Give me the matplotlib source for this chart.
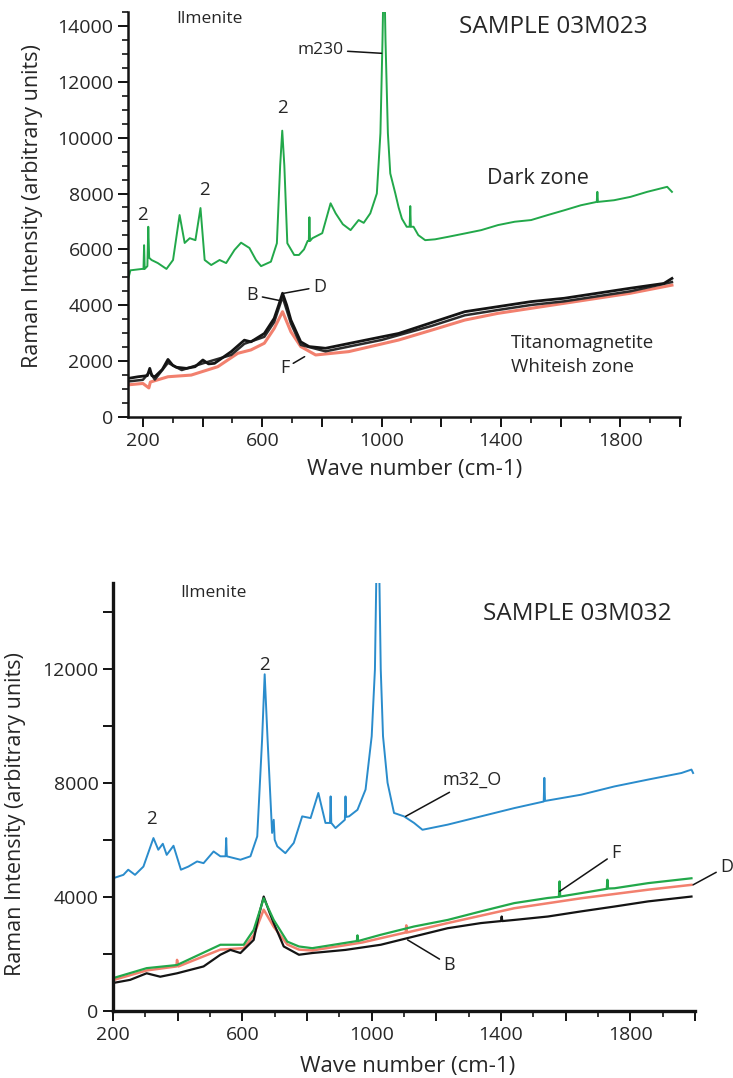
import matplotlib
matplotlib.use("Agg")
import matplotlib.pyplot as plt
from matplotlib.ticker import MultipleLocator, FuncFormatter

plt.rcParams["font.family"] = ["Open Sans", "DejaVu Sans"]

# ---------------------------------------------------------------------------
# Data
# ---------------------------------------------------------------------------

# sample 03M023 -- dark zone (ilmenite)
wn_dark = [150, 158, 197, 202, 204, 206, 215, 218, 221, 229, 250, 279, 301, 323, 340, 357, 376, 393,
           407, 429, 457, 479, 507, 529, 557, 579, 596, 629, 649, 660, 667, 674, 684, 707, 723, 740,
           752, 756, 758, 760, 768, 801, 829, 846, 870, 896, 923, 940, 962, 984, 996, 1003, 1008,
           1013, 1021, 1029, 1046, 1057, 1068, 1084, 1094, 1096, 1098, 1107, 1123, 1146, 1179, 1223,
           1279, 1334, 1390, 1446, 1501, 1557, 1612, 1668, 1721, 1723, 1725, 1779, 1834, 1890, 1957,
           1973]
int_dark = [4900, 5250, 5300, 5300, 6150, 5300, 5400, 6810, 5700, 5620, 5510, 5300, 5620, 7230, 6230,
            6400, 6330, 7480, 5620, 5440, 5620, 5510, 5980, 6240, 6050, 5620, 5400, 5560, 6220, 9000,
            10250, 9000, 6220, 5800, 5800, 6000, 6300, 6300, 7150, 6300, 6400, 6580, 7650, 7290, 6900,
            6690, 7050, 6950, 7290, 8000, 10160, 13500, 16500, 13500, 10160, 8720, 8000, 7500, 7100,
            6810, 6810, 7550, 6810, 6810, 6510, 6330, 6360, 6450, 6570, 6690, 6870, 6990, 7050, 7230,
            7400, 7580, 7700, 8060, 7700, 7760, 7880, 8060, 8240, 8060]

# sample 03M023 -- whiteish zone (titanomagnetite) B, D, F
wn_w_b = [150, 184, 215, 223, 230, 240, 265, 284, 300, 312, 346, 375, 401, 420, 440, 496, 540, 562,
          607, 640, 655, 668, 682, 696, 729, 757, 812, 890, 1001, 1057, 1168, 1279, 1390, 1501, 1612,
          1723, 1834, 1946, 1973]
int_w_b = [1380, 1440, 1480, 1740, 1480, 1440, 1700, 2060, 1850, 1780, 1740, 1800, 2040, 1900, 1920,
           2340, 2750, 2690, 2990, 3530, 4000, 4430, 4000, 3470, 2690, 2520, 2460, 2630, 2870, 2990,
           3380, 3770, 3950, 4130, 4250, 4430, 4610, 4780, 4960]
wn_w_d = [150, 200, 223, 240, 284, 330, 401, 496, 540, 607, 640, 668, 696, 729, 812, 1001, 1168, 1279,
          1390, 1501, 1612, 1723, 1834, 1973]
int_w_d = [1270, 1330, 1620, 1340, 1940, 1680, 1920, 2220, 2620, 2870, 3400, 4300, 3350, 2580, 2350,
           2760, 3260, 3640, 3830, 4010, 4140, 4320, 4500, 4830]
wn_w_f = [150, 200, 220, 225, 284, 362, 451, 518, 562, 607, 640, 668, 696, 729, 779, 890, 1057, 1168,
          1279, 1390, 1501, 1612, 1723, 1834, 1973]
int_w_f = [1150, 1200, 1040, 1250, 1440, 1500, 1800, 2280, 2400, 2640, 3170, 3770, 3050, 2520, 2220,
           2340, 2755, 3110, 3470, 3710, 3890, 4070, 4250, 4430, 4720]

# sample 03M032 -- m32_O (ilmenite)
wn_m32 = [200, 232, 247, 268, 294, 325, 340, 354, 366, 387, 410, 433, 460, 480, 511, 532, 548, 550,
          552, 594, 625, 646, 661, 669, 678, 692, 697, 700, 708, 733, 759, 785, 811, 835, 857, 871,
          873, 875, 888, 917, 919, 921, 930, 956, 981, 1000, 1010, 1016, 1022, 1028, 1035, 1049,
          1069, 1100, 1131, 1157, 1235, 1338, 1441, 1532, 1534, 1536, 1648, 1751, 1855, 1958, 1989,
          1994]
int_m32 = [4650, 4770, 4950, 4770, 5060, 6060, 5650, 5860, 5470, 5790, 4950, 5060, 5240, 5180, 5590,
           5420, 5420, 6060, 5420, 5300, 5420, 6120, 9510, 11800, 9510, 6240, 6700, 6000, 5770, 5530,
           5890, 6820, 6760, 7640, 6590, 6590, 7520, 6590, 6410, 6700, 7520, 6800, 6820, 7050, 7760,
           9630, 11970, 16500, 16500, 11970, 9630, 8000, 6940, 6820, 6590, 6350, 6530, 6820, 7110,
           7340, 8170, 7360, 7580, 7870, 8110, 8340, 8460, 8340]

# sample 03M032 -- B, D, F
wn_s_b = [200, 253, 304, 346, 398, 480, 532, 563, 594, 635, 650, 666, 684, 697, 728, 775, 816, 919,
          1028, 1131, 1235, 1338, 1400, 1402, 1404, 1441, 1545, 1648, 1751, 1855, 1989]
int_s_b = [980, 1090, 1320, 1200, 1320, 1560, 1970, 2140, 2030, 2490, 3300, 4010, 3450, 3080, 2260,
           1970, 2030, 2140, 2320, 2610, 2900, 3080, 3150, 3310, 3150, 3190, 3310, 3490, 3660, 3840,
           4010]
wn_s_d = [200, 304, 396, 398, 402, 532, 604, 635, 666, 697, 739, 775, 816, 971, 1028, 1105, 1107,
          1109, 1235, 1441, 1648, 1855, 1989]
int_s_d = [1080, 1420, 1560, 1790, 1560, 2150, 2200, 2650, 3550, 2950, 2330, 2150, 2120, 2400, 2550,
           2750, 3000, 2750, 3080, 3600, 3950, 4250, 4420]
wn_s_f = [200, 304, 398, 532, 563, 604, 635, 666, 697, 739, 775, 816, 954, 956, 958, 1028, 1131, 1235,
          1338, 1441, 1545, 1579, 1581, 1583, 1648, 1727, 1729, 1731, 1751, 1855, 1989]
int_s_f = [1150, 1500, 1610, 2320, 2320, 2320, 2840, 3950, 3190, 2430, 2260, 2200, 2450, 2650, 2450,
           2670, 2960, 3190, 3490, 3780, 3960, 4000, 4540, 4010, 4130, 4280, 4600, 4290, 4300, 4480,
           4650]

GREEN = "#22a84a"
BLUE = "#2a8ccc"
SALMON = "#f2806e"
BLACK = "#141414"
TXT = "#262626"


def style_axes(a, xlim, ylim, ymajor, yminor, ylabel_every, spine_w):
    a.set_xlim(*xlim)
    a.set_ylim(*ylim)
    for s in ("top", "right"):
        a.spines[s].set_visible(False)
    for s in ("left", "bottom"):
        a.spines[s].set_linewidth(spine_w)
        a.spines[s].set_color(BLACK)
    a.xaxis.set_major_locator(MultipleLocator(200))
    a.xaxis.set_minor_locator(MultipleLocator(100))
    a.xaxis.set_major_formatter(FuncFormatter(lambda v, p: f"{v:.0f}" if (v - 200) % 400 == 0 else ""))
    a.yaxis.set_major_locator(MultipleLocator(ymajor))
    if yminor:
        a.yaxis.set_minor_locator(MultipleLocator(yminor))
    a.yaxis.set_major_formatter(FuncFormatter(lambda v, p: f"{v:.0f}" if v % ylabel_every == 0 else ""))
    a.tick_params(which="major", direction="out", length=7, width=1.3, labelsize=14, labelcolor=TXT)
    a.tick_params(which="minor", direction="out", length=4, width=1.1)
    a.set_xlabel("Wave number (cm-1)", fontsize=16, color=TXT)
    a.set_ylabel("Raman Intensity (arbitrary units)", fontsize=15.5, color=TXT)


def leader(a, label, xy, xytext, fs=13, ha="center", va="center"):
    a.annotate(label, xy=xy, xytext=xytext, fontsize=fs, color=TXT, ha=ha, va=va,
               arrowprops=dict(arrowstyle="-", lw=1.1, color=BLACK, shrinkA=1, shrinkB=0))


fig = plt.figure(figsize=(7.33, 10.78), dpi=100)

# ---------------------------------------------------------------------------
# Top panel: SAMPLE 03M023
# ---------------------------------------------------------------------------
ax1 = fig.add_axes([0.1746, 0.6132, 0.7531, 0.3757])
ax1.plot(wn_dark, int_dark, color=GREEN, lw=1.4)
ax1.plot(wn_w_f, int_w_f, color=SALMON, lw=2.2)
ax1.plot(wn_w_d, int_w_d, color="#2b2b2b", lw=1.8)
ax1.plot(wn_w_b, int_w_b, color=BLACK, lw=2.0)
style_axes(ax1, (150, 2000), (0, 14500), 2000, 500, 2000, 1.8)
ax1.yaxis.set_label_coords(-0.154, 0.52)
ax1.xaxis.set_label_coords(0.52, -0.105)

ax1.text(423, 14250, "Ilmenite", fontsize=12.5, color=TXT, ha="center", va="center")
ax1.text(1577, 13950, "SAMPLE 03M023", fontsize=17.5, color=TXT, ha="center", va="center")
ax1.text(1523, 8550, "Dark zone", fontsize=15.5, color=TXT, ha="center", va="center")
ax1.text(1434, 2640, "Titanomagnetite", fontsize=13.5, color=TXT, ha="left", va="center")
ax1.text(1434, 1800, "Whiteish zone", fontsize=13.5, color=TXT, ha="left", va="center")
for px, py in [(200, 7230), (407, 8120), (667, 11050)]:
    ax1.text(px, py, "2", fontsize=13.5, color=TXT, ha="center", va="center")
leader(ax1, "m230", (1000, 13020), (872, 13150), fs=12.5, ha="right")
leader(ax1, "B", (662, 4160), (567, 4370))
leader(ax1, "D", (673, 4430), (792, 4660))
leader(ax1, "F", (742, 2160), (675, 1740))

# ---------------------------------------------------------------------------
# Bottom panel: SAMPLE 03M032
# ---------------------------------------------------------------------------
ax2 = fig.add_axes([0.1542, 0.0622, 0.794, 0.397])
ax2.plot(wn_m32, int_m32, color=BLUE, lw=1.4)
ax2.plot(wn_s_d, int_s_d, color=SALMON, lw=1.8)
ax2.plot(wn_s_b, int_s_b, color=BLACK, lw=1.6)
ax2.plot(wn_s_f, int_s_f, color=GREEN, lw=1.6)
style_axes(ax2, (200, 2000), (0, 15000), 2000, None, 4000, 2.4)
ax2.yaxis.set_label_coords(-0.1495, 0.46)
ax2.xaxis.set_label_coords(0.507, -0.105)

ax2.text(510, 14650, "Ilmenite", fontsize=12.5, color=TXT, ha="center", va="center")
ax2.text(1636, 13900, "SAMPLE 03M032", fontsize=17.5, color=TXT, ha="center", va="center")
for px, py in [(668, 12140), (320, 6720)]:
    ax2.text(px, py, "2", fontsize=13.5, color=TXT, ha="center", va="center")
leader(ax2, "m32_O", (1105, 6820), (1219, 8100), fs=13, ha="left")
leader(ax2, "F", (1581, 4190), (1755, 5530), fs=13)
leader(ax2, "D", (1994, 4420), (2098, 5060), fs=13)
leader(ax2, "B", (1111, 2490), (1240, 1610), fs=13)

fig.savefig("out.png", dpi=100)
plt.close(fig)
